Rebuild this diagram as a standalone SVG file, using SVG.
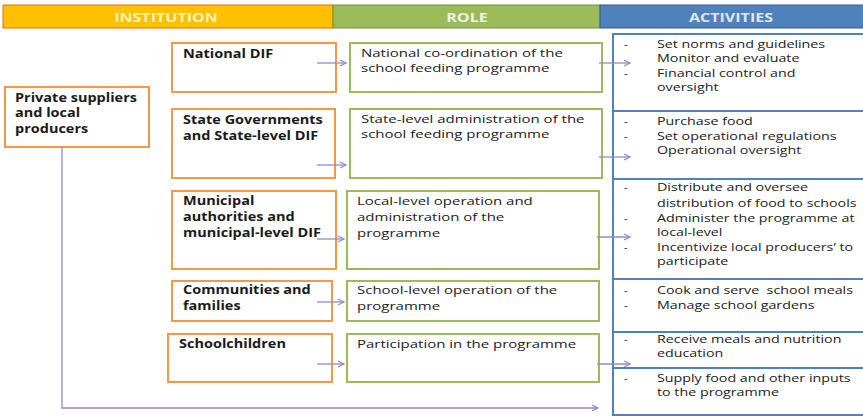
<svg xmlns="http://www.w3.org/2000/svg" width="863" height="418" viewBox="0 0 863 418">
<defs>
<marker id="arr" markerWidth="8" markerHeight="8" refX="7" refY="4" orient="auto" markerUnits="userSpaceOnUse">
<path d="M1,1 L7,4 L1,7" fill="none" stroke="#9A86C4" stroke-width="1.2"/>
</marker>
<style>
.hd{font-family:"Open Sans","Liberation Sans",sans-serif;font-weight:bold;font-size:12px;text-anchor:middle}
.inst{fill:#fff;stroke:#F79646;stroke-width:2}
.role{fill:#fff;stroke:#9BBB59;stroke-width:2}
.act{fill:#fff;stroke:#4F81BD;stroke-width:2}
.bt{font-family:"Open Sans","Liberation Sans",sans-serif;font-weight:bold;font-size:11.5px;fill:#1a1a1a}
.t{font-family:"Open Sans","Liberation Sans",sans-serif;font-size:10.5px;fill:#222}
.c{fill:none;stroke:#9A86C4;stroke-width:1.3;marker-end:url(#arr)}
</style>
</defs>
<rect width="863" height="418" fill="#fff"/>
<g id="header">
<rect x="3" y="5" width="330" height="23" fill="#FFC000" stroke="#E46C0A" stroke-width="1"/>
<rect x="333" y="5" width="267" height="23" fill="#9BBB59" stroke="#76923C" stroke-width="1"/>
<rect x="600" y="5" width="264" height="23" fill="#4F81BD" stroke="#385D8A" stroke-width="1"/>
<text class="hd" transform="translate(166,22) scale(1.34,1)" fill="#FFF2B8">INSTITUTION</text>
<text class="hd" transform="translate(467,22) scale(1.34,1)" fill="#EEF4E0">ROLE</text>
<text class="hd" transform="translate(731,22) scale(1.34,1)" fill="#DDE7F3">ACTIVITIES</text>
</g>
<g id="private">
<rect class="inst" x="5" y="87" width="144" height="60"/>
<text class="bt" transform="translate(15,102) scale(1.26,1)">Private suppliers</text>
<text class="bt" transform="translate(15,117) scale(1.26,1)">and local</text>
<text class="bt" transform="translate(15,133) scale(1.26,1)">producers</text>
</g>
<g id="inst-national">
<rect class="inst" x="172" y="43" width="164" height="49"/>
<text class="bt" transform="translate(183,58) scale(1.26,1)">National DIF</text>
</g>
<g id="inst-state">
<rect class="inst" x="172" y="109" width="163" height="69"/>
<text class="bt" transform="translate(183,124) scale(1.26,1)">State Governments</text>
<text class="bt" transform="translate(183,140) scale(1.26,1)">and State-level DIF</text>
</g>
<g id="inst-municipal">
<rect class="inst" x="172" y="191" width="164" height="78"/>
<text class="bt" transform="translate(183,205) scale(1.26,1)">Municipal</text>
<text class="bt" transform="translate(183,221) scale(1.26,1)">authorities and</text>
<text class="bt" transform="translate(183,237) scale(1.26,1)">municipal-level DIF</text>
</g>
<g id="inst-communities">
<rect class="inst" x="172" y="281" width="160" height="40"/>
<text class="bt" transform="translate(183,294) scale(1.26,1)">Communities and</text>
<text class="bt" transform="translate(183,310) scale(1.26,1)">families</text>
</g>
<g id="inst-schoolchildren">
<rect class="inst" x="168" y="334" width="164" height="48"/>
<text class="bt" transform="translate(179,348) scale(1.26,1)">Schoolchildren</text>
</g>
<g id="role-national">
<rect class="role" x="350" y="43" width="252" height="49"/>
<text class="t" transform="translate(361,57) scale(1.43,1)">National co-ordination of the</text>
<text class="t" transform="translate(361,72) scale(1.43,1)">school feeding programme</text>
</g>
<g id="role-state">
<rect class="role" x="350" y="109" width="252" height="69"/>
<text class="t" transform="translate(361,123) scale(1.43,1)">State-level administration of the</text>
<text class="t" transform="translate(361,138) scale(1.43,1)">school feeding programme</text>
</g>
<g id="role-municipal">
<rect class="role" x="347" y="191" width="252" height="78"/>
<text class="t" transform="translate(357,205) scale(1.43,1)">Local-level operation and</text>
<text class="t" transform="translate(357,221) scale(1.43,1)">administration of the</text>
<text class="t" transform="translate(357,237) scale(1.43,1)">programme</text>
</g>
<g id="role-communities">
<rect class="role" x="347" y="281" width="252" height="40"/>
<text class="t" transform="translate(357,294) scale(1.43,1)">School-level operation of the</text>
<text class="t" transform="translate(357,310) scale(1.43,1)">programme</text>
</g>
<g id="role-schoolchildren">
<rect class="role" x="347" y="334" width="252" height="48"/>
<text class="t" transform="translate(357,348) scale(1.43,1)">Participation in the programme</text>
</g>
<g id="act-national">
<rect class="act" x="613" y="34" width="260" height="77"/>
<text class="t" x="624" y="48">-</text><text class="t" transform="translate(657,48) scale(1.36,1)">Set norms and guidelines</text>
<text class="t" transform="translate(657,62) scale(1.36,1)">Monitor and evaluate</text>
<text class="t" x="624" y="77">-</text><text class="t" transform="translate(657,77) scale(1.36,1)">Financial control and</text>
<text class="t" transform="translate(657,91) scale(1.36,1)">oversight</text>
</g>
<g id="act-state">
<rect class="act" x="613" y="111" width="260" height="68"/>
<text class="t" x="624" y="125">-</text><text class="t" transform="translate(657,125) scale(1.36,1)">Purchase food</text>
<text class="t" x="624" y="140">-</text><text class="t" transform="translate(657,140) scale(1.36,1)">Set operational regulations</text>
<text class="t" transform="translate(657,154) scale(1.36,1)">Operational oversight</text>
</g>
<g id="act-municipal">
<rect class="act" x="613" y="179" width="260" height="100"/>
<text class="t" x="624" y="191">-</text><text class="t" transform="translate(657,191) scale(1.36,1)">Distribute and oversee</text>
<text class="t" transform="translate(657,207) scale(1.36,1)">distribution of food to schools</text>
<text class="t" x="624" y="222">-</text><text class="t" transform="translate(657,222) scale(1.36,1)">Administer the programme at</text>
<text class="t" transform="translate(657,236) scale(1.36,1)">local-level</text>
<text class="t" x="624" y="251">-</text><text class="t" transform="translate(657,251) scale(1.36,1)">Incentivize local producers’ to</text>
<text class="t" transform="translate(657,265) scale(1.36,1)">participate</text>
</g>
<g id="act-communities">
<rect class="act" x="613" y="279" width="260" height="53"/>
<text class="t" x="624" y="294">-</text><text class="t" transform="translate(657,294) scale(1.36,1)" xml:space="preserve">Cook and serve  school meals</text>
<text class="t" x="624" y="309">-</text><text class="t" transform="translate(657,309) scale(1.36,1)">Manage school gardens</text>
</g>
<g id="act-schoolchildren">
<rect class="act" x="613" y="332" width="260" height="36"/>
<text class="t" x="624" y="343">-</text><text class="t" transform="translate(657,343) scale(1.36,1)">Receive meals and nutrition</text>
<text class="t" transform="translate(657,357) scale(1.36,1)">education</text>
</g>
<g id="act-private">
<rect class="act" x="613" y="368" width="260" height="47"/>
<text class="t" x="624" y="382">-</text><text class="t" transform="translate(657,382) scale(1.36,1)">Supply food and other inputs</text>
<text class="t" transform="translate(657,396) scale(1.36,1)">to the programme</text>
</g>
<g id="connectors">
<path class="c" d="M317,63 H346"/>
<path class="c" d="M317,165 H346"/>
<path class="c" d="M317,239 H344"/>
<path class="c" d="M317,302 H344"/>
<path class="c" d="M317,364 H344"/>
<path class="c" d="M599,63 H630"/>
<path class="c" d="M599,157 H630"/>
<path class="c" d="M597,237 H630"/>
<path class="c" d="M597,364 H630"/>
<path class="c" d="M62,147 V408 H598"/>
</g>
</svg>
